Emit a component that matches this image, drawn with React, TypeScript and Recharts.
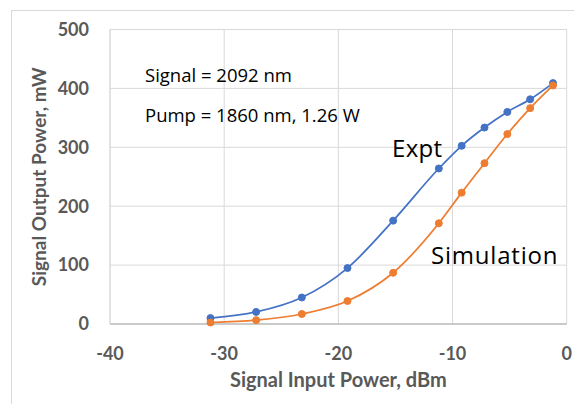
import React from 'react';
import { LineChart, Line, XAxis, YAxis, CartesianGrid, Label } from 'recharts';

const inputPower = [-31.2, -27.2, -23.2, -19.2, -15.2, -11.2, -9.2, -7.2, -5.2, -3.2, -1.2];
const exptOutput = [10, 20.5, 45, 95, 175.5, 264, 302.5, 333.5, 360, 381.5, 409];
const simOutput = [2.5, 6.5, 17, 39, 87, 171, 223, 273, 322.5, 366.5, 405];
const xTicks = [-40, -30, -20, -10, 0];
const yTicks = [0, 100, 200, 300, 400, 500];

const data = inputPower.map((x, i) => ({ x, expt: exptOutput[i], sim: simOutput[i] }));

const GRAY = '#595959';
const FONT = 'Lato, "Open Sans", sans-serif';
const NOTE_FONT = '"Open Sans", sans-serif';

export default function App() {
  return (
    <div style={{ position: 'absolute', left: 0, top: 0, width: 574, height: 404, overflow: 'hidden', background: '#fff' }}>
      <div style={{ position: 'absolute', left: 11, top: 10, width: 620, height: 460, border: '1px solid #d9d9d9', boxSizing: 'border-box' }} />
      <LineChart
        width={574}
        height={404}
        data={data}
        margin={{ top: 29.5, right: 7.3, bottom: 20, left: 40 }}
        style={{ position: 'absolute', left: 0, top: 0, fontFamily: FONT }}
      >
        <CartesianGrid stroke="#d9d9d9" strokeWidth={1} />
        <XAxis
          dataKey="x"
          type="number"
          domain={[-40, 0]}
          ticks={xTicks}
          height={60}
          tickSize={0}
          tickMargin={23.5}
          axisLine={{ stroke: '#bfbfbf', strokeWidth: 1.5 }}
          tick={{ fill: GRAY, fontSize: 18, fontWeight: 700, fontFamily: FONT }}
        >
          <Label
            value="Signal Input Power, dBm"
            position="insideBottom"
            offset={-3.3}
            style={{ fill: GRAY, fontSize: 20, fontWeight: 700, fontFamily: FONT }}
          />
        </XAxis>
        <YAxis
          type="number"
          domain={[0, 500]}
          ticks={yTicks}
          width={70}
          tickSize={0}
          tickMargin={21}
          axisLine={{ stroke: '#d9d9d9', strokeWidth: 1 }}
          tick={{ fill: GRAY, fontSize: 18, fontWeight: 700, fontFamily: FONT }}
        >
          <Label
            value="Signal Output Power, mW"
            angle={-90}
            position="insideLeft"
            offset={-1}
            style={{ fill: GRAY, fontSize: 19, fontWeight: 700, fontFamily: FONT, textAnchor: 'middle' }}
          />
        </YAxis>
        <Line
          type="monotone"
          dataKey="expt"
          stroke="#4472C4"
          strokeWidth={1.75}
          dot={{ r: 3.5, fill: '#4472C4', stroke: '#4472C4', strokeWidth: 1 }}
          isAnimationActive={false}
        />
        <Line
          type="monotone"
          dataKey="sim"
          stroke="#ED7D31"
          strokeWidth={1.75}
          dot={{ r: 3.5, fill: '#ED7D31', stroke: '#ED7D31', strokeWidth: 1 }}
          isAnimationActive={false}
        />
        <text x={145} y={81.7} fontSize={18.5} fontFamily={NOTE_FONT} fill="#000">Signal = 2092 nm</text>
        <text x={145} y={121.7} fontSize={18.5} fontFamily={NOTE_FONT} fill="#000">Pump = 1860 nm, 1.26 W</text>
        <text x={392} y={157.3} fontSize={24} fontFamily={NOTE_FONT} fill="#000" letterSpacing={0.3}>Expt</text>
        <text x={431} y={264} fontSize={24} fontFamily={NOTE_FONT} fill="#000" letterSpacing={0.8}>Simulation</text>
      </LineChart>
    </div>
  );
}
